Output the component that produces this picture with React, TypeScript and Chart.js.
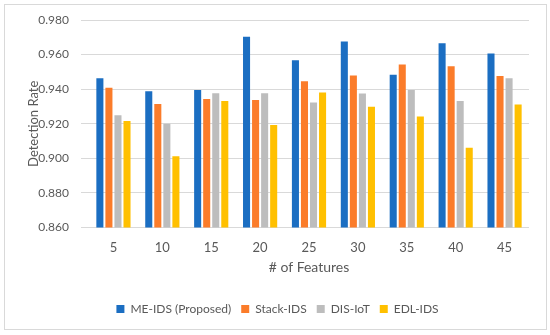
import React, { useEffect, useRef } from "react";
import { Chart, registerables } from "chart.js";

Chart.register(...registerables);

const categories = ["5", "10", "15", "20", "25", "30", "35", "40", "45"];
const meIds = [0.9464, 0.9388, 0.9396, 0.9703, 0.9568, 0.9676, 0.9483, 0.9665, 0.9607];
const stackIds = [0.9408, 0.9315, 0.9344, 0.9338, 0.9446, 0.9479, 0.9543, 0.9533, 0.9477];
const disIot = [0.9249, 0.9201, 0.9377, 0.9377, 0.9323, 0.9375, 0.9396, 0.9332, 0.9464];
const edlIds = [0.9216, 0.9012, 0.9332, 0.9193, 0.9381, 0.9298, 0.9242, 0.9062, 0.9311];
const seriesNames = ["ME-IDS (Proposed)", "Stack-IDS", "DIS-IoT", "EDL-IDS"];
const colors = ["#1B6EC2", "#FB7C2A", "#BDBDBD", "#FFC000"];

export default function App() {
  const ref = useRef<HTMLCanvasElement | null>(null);
  useEffect(() => {
    if (!ref.current) return;
    const font = "Lato, 'Open Sans', sans-serif";
    const data = [meIds, stackIds, disIot, edlIds];
    const chart = new Chart(ref.current, {
      type: "bar",
      data: {
        labels: categories,
        datasets: data.map((d, i) => ({
          label: seriesNames[i],
          data: d,
          backgroundColor: colors[i],
          borderWidth: 0,
          barPercentage: 0.78,
          categoryPercentage: 0.74,
        })),
      },
      options: {
        animation: false,
        responsive: false,
        devicePixelRatio: 1,
        layout: { padding: { left: 26, right: 21, top: 20, bottom: 10 } },
        scales: {
          x: {
            grid: { display: false },
            border: { display: false },
            ticks: { color: "#595959", font: { family: font, size: 13 }, padding: 4 },
            title: {
              display: true,
              text: "# of Features",
              color: "#595959",
              font: { family: font, size: 14 },
              padding: { top: 0, bottom: 17 },
            },
          },
          y: {
            min: 0.86,
            max: 0.98,
            afterFit: (scale: any) => {
              scale.width = 63;
            },
            grid: { color: "#D9D9D9", lineWidth: 1 },
            border: { display: false },
            ticks: {
              stepSize: 0.02,
              color: "#595959",
              font: { family: font, size: 12 },
              padding: 12,
              callback: (v: any) => Number(v).toFixed(3),
            },
            title: {
              display: true,
              text: "Detection Rate",
              color: "#595959",
              font: { family: font, size: 13 },
              padding: { top: 0, bottom: 2 },
            },
          },
        },
        plugins: {
          legend: {
            position: "bottom",
            labels: {
              boxWidth: 8,
              boxHeight: 8,
              color: "#595959",
              font: { family: font, size: 12 },
              padding: 10,
            },
          },
          tooltip: { enabled: false },
        },
      },
    });
    return () => chart.destroy();
  }, []);
  return (
    <div style={{ position: "fixed", left: 0, top: 0, width: 550, height: 335, background: "#fff" }}>
      <canvas ref={ref} width={550} height={335} style={{ position: "absolute", left: 0, top: 0 }} />
      <div
        style={{
          position: "absolute",
          left: 4,
          top: 4,
          width: 541,
          height: 324,
          border: "1px solid #D9D9D9",
          pointerEvents: "none",
        }}
      />
    </div>
  );
}
